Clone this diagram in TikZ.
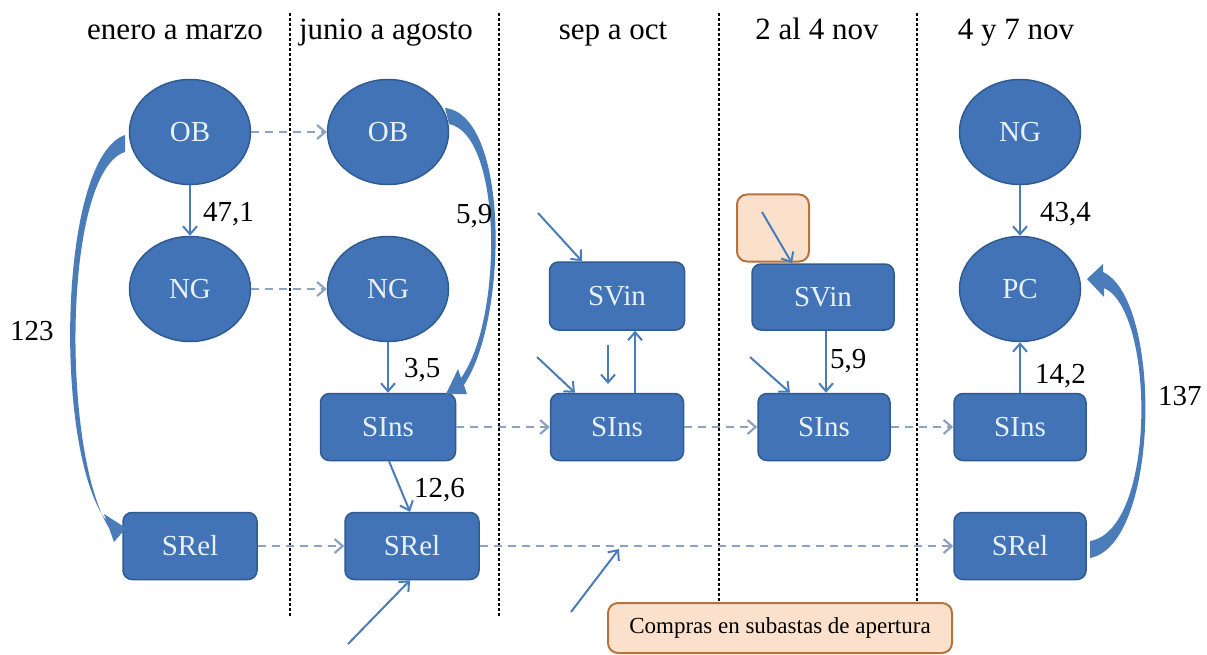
\documentclass[tikz,border=0pt]{standalone}
\usepackage{fontspec}
\setmainfont{Liberation Serif}
\usetikzlibrary{shapes.geometric,arrows.meta}
\definecolor{nb}{HTML}{4273B6}
\definecolor{nbd}{HTML}{2E5B91}
\definecolor{nt}{HTML}{E8F0FA}
\definecolor{ar}{HTML}{4A7CB9}
\definecolor{da}{HTML}{8DA2C0}
\definecolor{ofill}{HTML}{FBE1CC}
\definecolor{obord}{HTML}{B8733C}
\begin{document}
\begin{tikzpicture}[x=1pt,y=-1pt,
 ell/.style={ellipse, fill=nb, draw=nbd, line width=1.5pt, minimum width=121pt, minimum height=105pt, inner sep=0pt, text=nt, font=\fontsize{29}{31}\selectfont},
 rbox/.style={rectangle, rounded corners=9pt, fill=nb, draw=nbd, line width=1.5pt, minimum width=134pt, minimum height=67pt, inner sep=0pt, text=nt, font=\fontsize{29}{31}\selectfont},
 obox/.style={rectangle, rounded corners=10pt, fill=ofill, draw=obord, line width=2pt, inner sep=0pt},
 hdr/.style={font=\fontsize{31}{33}\selectfont, text=black, inner sep=0pt, anchor=base},
 lbl/.style={font=\fontsize{29}{31}\selectfont, text=black, inner sep=0pt, anchor=base west},
 solidarr/.style={draw=ar, line width=2pt, -{Straight Barb[length=8pt,width=14pt]}},
 dasharr/.style={draw=da, line width=2.2pt, dash pattern=on 8pt off 6pt, -{Straight Barb[length=8pt,width=14pt]}},
 sepline/.style={draw=black, line width=1.5pt, dash pattern=on 3pt off 2pt},
 fat/.style={fill=ar, draw=none},
]
\fill[white] (0,0) rectangle (1207,655);
\useasboundingbox (0,0) rectangle (1207,655);

% headers
\node[hdr] (h1) at (175,40) {enero a marzo};
\node[hdr] (h2) at (386,40) {junio a agosto};
\node[hdr] (h3) at (613,40) {sep a oct};
\node[hdr] (h4) at (817,40) {2 al 4 nov};
\node[hdr] (h5) at (1016,40) {4 y 7 nov};

% separators
\coordinate (s1a) at (290,13); \coordinate (s1b) at (290,617);
\coordinate (s2a) at (499,13); \coordinate (s2b) at (499,617);
\coordinate (s3a) at (719,13); \coordinate (s3b) at (719,603);
\coordinate (s4a) at (917,13); \coordinate (s4b) at (917,603);
\draw[sepline] (s1a) -- (s1b);
\draw[sepline] (s2a) -- (s2b);
\draw[sepline] (s3a) -- (s3b);
\draw[sepline] (s4a) -- (s4b);

% bottom box
\node[obox, minimum width=344pt, minimum height=50pt, font=\fontsize{23}{25}\selectfont] (cmp) at (780,628) {Compras en subastas de apertura};

% nodes
\node[ell] (OB1) at (190,132) {OB};
\node[ell] (NG1) at (190,289) {NG};
\node[rbox] (SR1) at (190,546) {SRel};

\node[ell] (OB2) at (388,132) {OB};
\node[ell] (NG2) at (388,289) {NG};
\node[rbox, minimum width=135pt] (SI2) at (388,427) {SIns};
\node[rbox] (SR2) at (412,546) {SRel};

\node[rbox, minimum width=135pt, minimum height=68pt] (SV3) at (617,296) {SVin};
\node[rbox, minimum width=133pt] (SI3) at (617,427) {SIns};

\node[obox, minimum width=72pt, minimum height=67pt] (ob) at (773,228) {};
\node[rbox, minimum width=142pt, minimum height=66pt] (SV4) at (823,297) {SVin};
\node[rbox, minimum width=132pt] (SI4) at (824,427) {SIns};

\node[ell] (NG5) at (1020,132) {NG};
\node[ell] (PC5) at (1020,289) {PC};
\node[rbox, minimum width=132pt] (SI5) at (1020,427) {SIns};
\node[rbox, minimum width=132pt] (SR5) at (1020,546) {SRel};

% dashed carry-over arrows
\draw[dasharr] (OB1.east) -- (OB2.west);
\draw[dasharr] (NG1.east) -- (NG2.west);
\draw[dasharr] (SI2.east) -- (SI3.west);
\draw[dasharr] (SI3.east) -- (SI4.west);
\draw[dasharr] (SI4.east) -- (SI5.west);
\draw[dasharr] (SR1.east) -- (SR2.west);
\draw[dasharr] (SR2.east) -- (SR5.west);

% solid arrows with labels
\draw[solidarr] (OB1.south) -- (NG1.north);
\node[lbl] (l471) at (203,222) {47,1};
\draw[solidarr] (NG2.south) -- (SI2.north);
\node[lbl] (l35) at (404,377) {3,5};
\draw[solidarr] ([xshift=1pt]SI2.south) -- ([xshift=-2pt]SR2.north);
\node[lbl] (l126) at (414,497) {12,6};
\draw[solidarr] ([xshift=3pt]SV4.south) -- ([xshift=2pt]SI4.north);
\node[lbl] (l59b) at (830,368) {5,9};
\draw[solidarr] (NG5.south) -- (PC5.north);
\node[lbl] (l434) at (1040,222) {43,4};
\draw[solidarr] (SI5.north) -- (PC5.south);
\node[lbl] (l142) at (1035,383) {14,2};
\draw[solidarr] ([xshift=18pt]SI3.north) -- ([xshift=18pt]SV3.south);

% free incoming arrows
\coordinate (i1) at (348,644);
\draw[solidarr] (i1) -- ([xshift=-2pt]SR2.south);
\coordinate (i2a) at (571,612); \coordinate (i2b) at (619,549);
\draw[solidarr] (i2a) -- (i2b);
\coordinate (i3) at (538,213);
\draw[solidarr] (i3) -- ([xshift=-35pt]SV3.north);
\coordinate (i4) at (537,357);
\draw[solidarr] (i4) -- ([xshift=-42pt]SI3.north);
\coordinate (d1) at (608,345); \coordinate (d2) at (608,384);
\draw[solidarr] (d1) -- (d2);
\coordinate (i5) at (762,212);
\draw[solidarr] (i5) -- ([xshift=-31pt]SV4.north);
\coordinate (i6) at (750,357);
\draw[solidarr] (i6) -- ([xshift=-34pt]SI4.north);

% big tapered curved arrows
\fill[fat] (125,135) .. controls (58,158) and (53,450) .. (106.5,521) -- (104,514) -- (126,528) -- (114,542) -- (109,528) .. controls (61,450) and (63,172) .. (125,152) -- cycle;
\node[lbl] (l123) at (10,340) {123};
\fill[fat] (445,108) .. controls (510,115) and (508,320) .. (463.9,385) -- (467,394) -- (446,394) -- (458,369) -- (461,378) .. controls (503,320) and (503,135) .. (449,124) -- cycle;
\node[lbl] (l59a) at (456,223) {5,9};
\fill[fat] (1090,558) .. controls (1160,545) and (1163,300) .. (1103,272) -- (1103,264) -- (1087,279) -- (1104,297) -- (1104,288) .. controls (1155,310) and (1157,530) .. (1090,541) -- cycle;
\node[lbl] (l137) at (1158,405) {137};
\end{tikzpicture}
\end{document}
